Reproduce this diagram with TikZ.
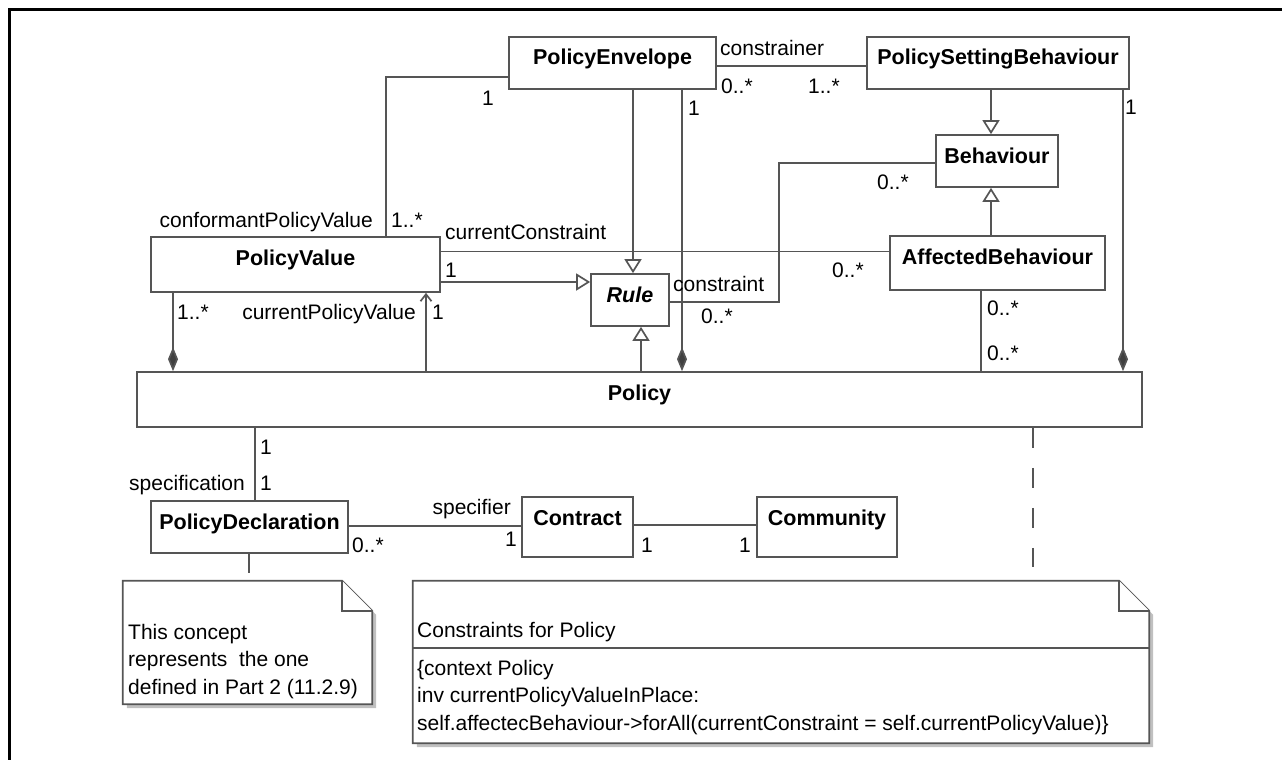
\documentclass[tikz,border=0pt]{standalone}
\usepackage{fontspec}
\setmainfont{Liberation Sans}
\usetikzlibrary{arrows.meta}
\definecolor{linegray}{RGB}{85,85,85}
\definecolor{tipgray}{RGB}{64,64,64}
\definecolor{shadowgray}{RGB}{192,192,192}
\newcommand{\classfont}{\fontsize{21.5}{26}\selectfont\bfseries}
\newcommand{\multfont}{\fontsize{21}{27.5}\selectfont}
\begin{document}
\begin{tikzpicture}[x=1pt, y=-1pt,
    umlclass/.style={draw=linegray, line width=1.7pt, fill=white, inner sep=0pt, text height=28pt, font=\classfont},
    mult/.style={inner sep=0pt, text height=17pt, text depth=2pt, font=\multfont},
    notebox/.style={draw=linegray, line width=1.7pt, fill=white},
    notetext/.style={inner sep=0pt, font=\multfont, align=left, anchor=north west},
    assoc/.style={draw=linegray, line width=1.7pt},
    generalization/.style={assoc, -{Triangle[open, fill=white, length=14pt, width=17pt]}},
    composition/.style={assoc, -{Diamond[length=24pt, width=10pt, fill=tipgray]}},
    navigable/.style={assoc, -{Straight Barb[length=7pt, width=11pt]}}]
            \useasboundingbox (0,0) rectangle (1282,760);
            \draw[line width=3pt] (1282,10) -| (9,760);
            \node[umlclass, minimum width=207pt, text depth=24pt] (policy_envelope) at (612.5,63) {PolicyEnvelope};
            \node[umlclass, minimum width=262pt, text depth=24pt] (policy_setting_behaviour) at (998,63) {PolicySettingBehaviour};
            \node[umlclass, minimum width=122pt, text depth=24pt] (behaviour) at (997,161) {Behaviour};
            \node[umlclass, minimum width=215pt, text depth=26pt] (affected_behaviour) at (997.5,263) {AffectedBehaviour};
            \node[umlclass, minimum width=289pt, text depth=27pt] (policy_value) at (295.5,264.5) {PolicyValue};
            \node[umlclass, minimum width=78pt, text depth=24pt, font=\classfont\itshape] (rule) at (630,300) {Rule};
            \node[umlclass, minimum width=1005pt, text depth=27pt] (policy) at (639.5,399.5) {Policy};
            \node[umlclass, minimum width=197pt, text depth=24pt] (policy_declaration) at (249.5,527) {PolicyDeclaration};
            \node[umlclass, minimum width=111pt, text depth=32pt] (contract) at (577.5,527) {Contract};
            \node[umlclass, minimum width=140pt, text depth=32pt] (community) at (827,527) {Community};
            \node[minimum width=249pt, minimum height=123pt, inner sep=0pt] (concept_note) at (247.5,642.5) {};
            \node[minimum width=736pt, minimum height=162pt, inner sep=0pt] (constraint_note) at (781,662) {};
            \fill[shadowgray] ([xshift=4pt, yshift=-4pt]concept_note.north west) -- ([xshift=-26pt, yshift=-4pt]concept_note.north east) -- ([xshift=4pt, yshift=-34pt]concept_note.north east) -- ([xshift=4pt, yshift=-4pt]concept_note.south east) -- ([xshift=4pt, yshift=-4pt]concept_note.south west) -- cycle;
            \draw[notebox] (concept_note.north west) -- ([xshift=-30pt]concept_note.north east) -- ([yshift=-30pt]concept_note.north east) -- (concept_note.south east) -- (concept_note.south west) -- cycle;
            \draw[notebox] ([xshift=-30pt]concept_note.north east) |- ([yshift=-30pt]concept_note.north east);
            \fill[shadowgray] ([xshift=4pt, yshift=-4pt]constraint_note.north west) -- ([xshift=-26pt, yshift=-4pt]constraint_note.north east) -- ([xshift=4pt, yshift=-34pt]constraint_note.north east) -- ([xshift=4pt, yshift=-4pt]constraint_note.south east) -- ([xshift=4pt, yshift=-4pt]constraint_note.south west) -- cycle;
            \draw[notebox] (constraint_note.north west) -- ([xshift=-30pt]constraint_note.north east) -- ([yshift=-30pt]constraint_note.north east) -- (constraint_note.south east) -- (constraint_note.south west) -- cycle;
            \draw[notebox] ([xshift=-30pt]constraint_note.north east) |- ([yshift=-30pt]constraint_note.north east);
            \draw[notebox] ([yshift=-67pt]constraint_note.north west) -- ([yshift=-67pt]constraint_note.north east);
            \node[notetext] (concept_text) at (128,624) {This concept\\represents~ the one\\defined in Part 2 (11.2.9)};
            \node[mult, anchor=west] (constraint_title) at (417,630) {Constraints for Policy};
            \node[notetext] (constraint_body) at (417,660) {\{context Policy\\inv currentPolicyValueInPlace:\\self.affectecBehaviour->forAll(currentConstraint = self.currentPolicyValue)\}};
            \coordinate (constraint_bend) at (779,163);
            \draw[assoc] ([yshift=-14pt]policy_envelope.west) -| ([xshift=90.5pt]policy_value.north);
            \draw[assoc] ([yshift=-3pt]policy_envelope.east) -- ([yshift=-3pt]policy_setting_behaviour.west);
            \draw[generalization] ([xshift=-7pt]policy_setting_behaviour.south) -- ([xshift=-6pt]behaviour.north);
            \draw[generalization] ([xshift=-6.5pt]affected_behaviour.north) -- ([xshift=-6pt]behaviour.south);
            \draw[assoc] ([yshift=-2pt]rule.east) -| (constraint_bend) -- ([yshift=-2pt]behaviour.west);
            \draw[assoc] ([yshift=13pt]policy_value.east) -- ([yshift=11.5pt]affected_behaviour.west);
            \draw[generalization] ([yshift=-17.5pt]policy_value.east) -- ([yshift=18pt]rule.west);
            \draw[generalization] ([xshift=20.5pt]policy_envelope.south) -- ([xshift=3pt]rule.north);
            \draw[generalization] ([xshift=1.5pt]policy.north) -- ([xshift=11pt]rule.south);
            \draw[composition] ([xshift=69.5pt]policy_envelope.south) -- ([xshift=42.5pt]policy.north);
            \draw[composition] ([xshift=125pt]policy_setting_behaviour.south) -- ([xshift=483.5pt]policy.north);
            \draw[composition] ([xshift=-122.5pt]policy_value.south) -- ([xshift=-466.5pt]policy.north);
            \draw[navigable] ([xshift=-213.5pt]policy.north) -- ([xshift=130.5pt]policy_value.south);
            \draw[assoc] ([xshift=-16.5pt]affected_behaviour.south) -- ([xshift=341.5pt]policy.north);
            \draw[assoc] ([xshift=-384.5pt]policy.south) -- ([xshift=5.5pt]policy_declaration.north);
            \draw[assoc] ([yshift=1pt]policy_declaration.east) -- ([yshift=1pt]contract.west);
            \draw[assoc] ([yshift=2pt]contract.east) -- ([yshift=2pt]community.west);
            \draw[assoc] ([xshift=-0.5pt]policy_declaration.south) -- ([xshift=1.5pt, yshift=8pt]concept_note.north);
            \draw[assoc, dash pattern=on 20pt off 20pt] ([xshift=393.5pt]policy.south) -- ([xshift=252pt, yshift=14pt]constraint_note.north);
            \node[mult] (pe_pv_one) at (488,98) {1};
            \node[mult, anchor=west] (pe_pv_many) at (391,220) {1..*};
            \node[mult, anchor=east] (pe_pv_role) at (373,220) {conformantPolicyValue};
            \node[mult, anchor=west] (pe_psb_role) at (720,48) {constrainer};
            \node[mult, anchor=west] (pe_psb_many) at (721,86) {0..*};
            \node[mult, anchor=west] (psb_pe_many) at (808,86) {1..*};
            \node[mult, anchor=west] (pe_policy_one) at (688,108) {1};
            \node[mult, anchor=west] (psb_policy_one) at (1125,107) {1};
            \node[mult, anchor=west] (behaviour_many) at (877,182) {0..*};
            \node[mult, anchor=west] (pv_ab_role) at (445,232) {currentConstraint};
            \node[mult, anchor=west] (pv_ab_one) at (445,270) {1};
            \node[mult, anchor=west] (ab_pv_many) at (832,270) {0..*};
            \node[mult, anchor=west] (rule_role) at (673,284) {constraint};
            \node[mult, anchor=west] (rule_many) at (701,316) {0..*};
            \node[mult, anchor=west] (pv_policy_many) at (177,312) {1..*};
            \node[mult, anchor=east] (policy_pv_role) at (416,312) {currentPolicyValue};
            \node[mult, anchor=west] (policy_pv_one) at (432,312) {1};
            \node[mult, anchor=west] (ab_policy_many) at (987,308) {0..*};
            \node[mult, anchor=west] (policy_ab_many) at (987,353) {0..*};
            \node[mult, anchor=west] (policy_decl_one) at (260,447) {1};
            \node[mult, anchor=west] (decl_policy_one) at (260,483) {1};
            \node[mult, anchor=east] (decl_role) at (245,483) {specification};
            \node[mult, anchor=east] (contract_role) at (511,507) {specifier};
            \node[mult] (contract_decl_one) at (511,539) {1};
            \node[mult, anchor=west] (decl_contract_many) at (352,545) {0..*};
            \node[mult, anchor=west] (contract_community_one) at (641,545) {1};
            \node[mult] (community_contract_one) at (745,545) {1};
        \end{tikzpicture}
\end{document}
